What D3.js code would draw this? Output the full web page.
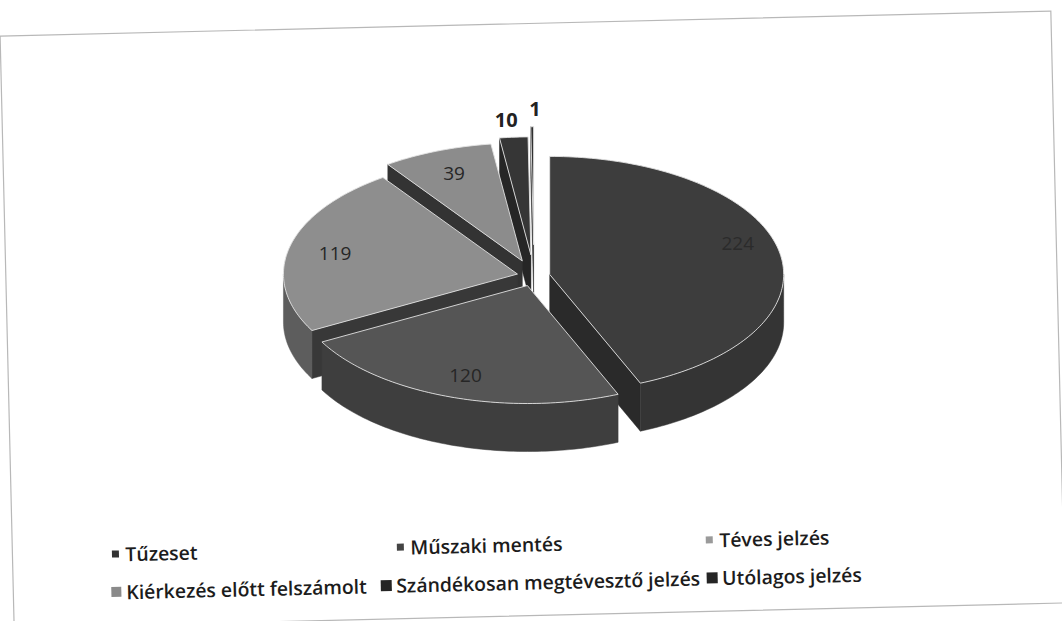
<!DOCTYPE html>
<html>
<head>
<meta charset="utf-8">
<script src="https://cdn.jsdelivr.net/npm/d3@7"></script>
<style>
body{margin:0;background:#fff}
</style>
</head>
<body>
<svg></svg>
<script>
// data
var categories = ["Tűzeset","Műszaki mentés","Téves jelzés","Kiérkezés előtt felszámolt","Szándékosan megtévesztő jelzés","Utólagos jelzés"];
var values = [224,120,119,39,10,1];

// styles
var topColors = ["#3d3d3d","#555555","#8e8e8e","#8c8c8c","#363636","#303030"];
var outerColors = ["#343434","#3e3e3e","#5d5d5d","#5a5a5a","#2c2c2c","#2a2a2a"];
var innerColors = ["#2a2a2a","#2e2e2e","#383838","#333333","#262626","#222222"];
var legendColors = ["#333333","#444444","#9a9a9a","#8a8a8a","#252525","#252525"];
var legendSizes = [7,7,7,10,11,11];
var explode = [16,20,17,32,42,62];

var screen = {width:1062,height:621};
var geo = {cx:534, cy:276, rx:234, ry:118, depth:48};
var font = "'Open Sans', Lato, sans-serif";

var svg = d3.select("svg")
    .attr("width",screen.width)
    .attr("height",screen.height);

// frame + legend are slightly rotated (scanned page)
var page = svg.append("g")
    .attr("transform","rotate(-1.36,532.5,319.5)");

page.append("rect")
    .attr("x",7).attr("y",23.5)
    .attr("width",1051).attr("height",592)
    .attr("fill","none")
    .attr("stroke","#b8b8b8")
    .attr("stroke-width",1.2);

var slices = d3.pie().sort(null).value(function(d){return d;})(values);

var proj = function(c, a, r)
{
    return [c[0] + r*geo.rx*Math.sin(a), c[1] - r*geo.ry*Math.cos(a)];
}

var arcPts = function(c, a0, a1)
{
    var n = Math.max(2, Math.ceil((a1-a0)/0.02));
    return d3.range(n+1).map(function(i){ return proj(c, a0 + (a1-a0)*i/n, 1); });
}

var down = function(p){ return [p[0], p[1] + geo.depth]; }

var walls = [];
var tops = [];

slices.forEach(function(s, i)
{
    var m = (s.startAngle + s.endAngle)/2;
    var c = [geo.cx + explode[i]*Math.sin(m),
             geo.cy - explode[i]*Math.cos(m)*geo.ry/geo.rx];
    s.center = c;
    s.mid = m;

    // radial walls that face the viewer
    [[s.startAngle, Math.sin(s.startAngle) < 0], [s.endAngle, Math.sin(s.endAngle) > 0]].forEach(function(w)
    {
        if (!w[1]) return;
        var r = proj(c, w[0], 1);
        walls.push({pts:[c, r, down(r), down(c)], fill:innerColors[i], key:(c[1]+r[1])/2});
    });

    // outer curved wall, front half only
    var a0 = Math.max(s.startAngle, Math.PI/2);
    var a1 = Math.min(s.endAngle, Math.PI*1.5);
    if (a0 < a1)
    {
        var top = arcPts(c, a0, a1);
        var pts = top.concat(top.slice().reverse().map(down));
        walls.push({pts:pts, fill:outerColors[i], key:d3.mean(top, function(p){return p[1];})});
    }

    tops.push({pts:[c].concat(arcPts(c, s.startAngle, s.endAngle)), fill:topColors[i]});
});

walls.sort(function(a,b){ return a.key - b.key; });

var line = d3.line();
var pie = svg.append("g").attr("id","pie");

pie.selectAll("path.wall")
    .data(walls)
    .enter()
    .append("path")
    .attr("class","wall")
    .attr("d",function(d){ return line(d.pts) + "Z"; })
    .attr("fill",function(d){ return d.fill; })
    .attr("stroke",function(d){ return d.fill; })
    .attr("stroke-width",0.5);

pie.selectAll("path.top")
    .data(tops)
    .enter()
    .append("path")
    .attr("class","top")
    .attr("d",function(d){ return line(d.pts) + "Z"; })
    .attr("fill",function(d){ return d.fill; })
    .attr("stroke","#e2e2e2")
    .attr("stroke-width",0.9)
    .attr("stroke-linejoin","round");

// data labels
slices.forEach(function(s, i)
{
    var span = s.endAngle - s.startAngle;
    if (span > 0.2)
    {
        var p = proj(s.center, s.mid, i == 0 ? 0.82 : 0.8);
        pie.append("text")
            .attr("x",p[0]).attr("y", i == 0 ? p[1]-12 : p[1])
            .attr("text-anchor","middle")
            .attr("dominant-baseline","central")
            .attr("font-family",font)
            .attr("font-size",19)
            .attr("fill", i == 0 ? "#2b2b2b" : "#262626")
            .text(values[i]);
    }
    else
    {
        var r = proj(s.center, s.mid, 1);
        var last = i == slices.length-1;
        pie.append("text")
            .attr("x", last ? r[0]-3 : r[0]+4)
            .attr("y", r[1]-18)
            .attr("text-anchor", last ? "start" : "end")
            .attr("dominant-baseline","central")
            .attr("font-family",font)
            .attr("font-weight","bold")
            .attr("font-size",20)
            .attr("fill","#222")
            .text(values[i]);
    }
});

// legend
var legendRows = [544, 582];
var legendCols = [[110, 395, 704],[110, 380, 706]];

var legend = page.append("g").attr("id","legend");
var items = legend.selectAll("g.item")
    .data(categories)
    .enter()
    .append("g")
    .attr("class","item")
    .attr("transform",function(d,i){
        return "translate(" + legendCols[Math.floor(i/3)][i%3] + "," + legendRows[Math.floor(i/3)] + ")";
    });

items.append("rect")
    .attr("x",function(d,i){ return -legendSizes[i]/2; })
    .attr("y",function(d,i){ return -legendSizes[i]/2; })
    .attr("width",function(d,i){ return legendSizes[i]; })
    .attr("height",function(d,i){ return legendSizes[i]; })
    .attr("fill",function(d,i){ return legendColors[i]; });

var texts = items.append("text")
    .attr("x",10)
    .attr("dominant-baseline","central")
    .attr("font-family",font)
    .attr("font-weight",600)
    .attr("font-size",17)
    .attr("fill","#1c1c1c")
    .text(function(d){ return d; });

// fit legend font so the longest entry is about 304px wide, as in the picture
var longest = d3.max(texts.nodes(), function(n){ return n.getComputedTextLength(); });
texts.attr("font-size", 17*304/longest);
</script>
</body>
</html>
